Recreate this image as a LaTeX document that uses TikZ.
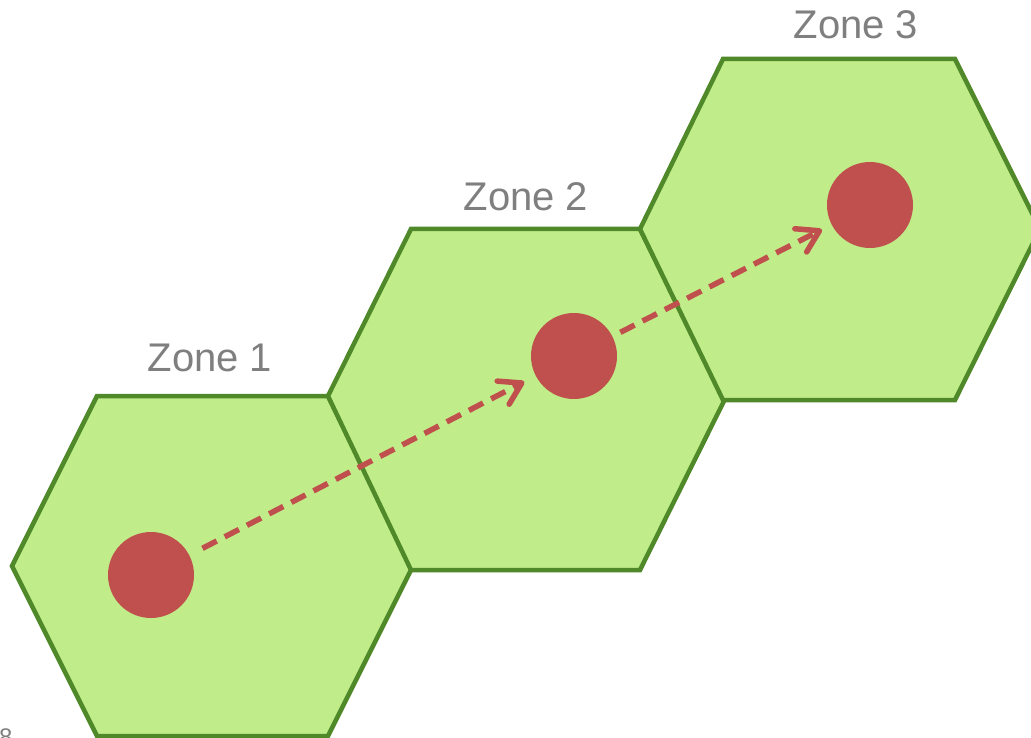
\documentclass[tikz,border=0pt]{standalone}
\usepackage{fontspec}
\setmainfont{Liberation Sans}
\usetikzlibrary{arrows.meta}
\definecolor{hexfill}{RGB}{192,236,137}
\definecolor{hexedge}{RGB}{79,137,41}
\definecolor{dotred}{RGB}{192,80,77}
\definecolor{labelgray}{RGB}{127,127,127}
\tikzset{
  hexzone/.style={fill=hexfill, draw=hexedge, line width=4.5pt, line join=miter},
  dot/.style={circle, fill=dotred, minimum size=86pt, inner sep=0pt, outer sep=0pt},
  move/.style={draw=dotred, line width=5.5pt, dash pattern=on 16pt off 9pt,
    -{Straight Barb[length=21pt,width=26pt,line cap=round,round]}},
  zonelabel/.style={text=labelgray, font=\fontsize{40}{48}\selectfont, anchor=base, inner sep=0pt}
}
\begin{document}
\begin{tikzpicture}[x=1pt,y=-1pt]
\useasboundingbox (0,0) rectangle (1031,738);
\clip (0,0) rectangle (1031,738);
% hexagons
\draw[hexzone] (12,566) -- (97,396) -- (328,396) -- (413,566) -- (328,736) -- (97,736) -- cycle;
\draw[hexzone] (328,396) -- (411,229) -- (640,229) -- (725,399) -- (640,570) -- (411,570) -- cycle;
\draw[hexzone] (640,229) -- (723,59) -- (955,59) -- (1040,229) -- (955,400) -- (723,400) -- cycle;
% zone labels
\node[zonelabel] (z1) at (210,371) {Zone 1};
\node[zonelabel] (z2) at (526,211) {Zone 2};
\node[zonelabel] (z3) at (856,39) {Zone 3};
% dots
\node[dot] (c1) at (151,575) {};
\node[dot] (c2) at (574,356) {};
\node[dot] (c3) at (870,205) {};
% moves
\draw[move, shorten <=15pt, shorten >=13pt] (c1) -- (c2);
\draw[move, shorten <=9pt, shorten >=11pt] (c2) -- (c3);
% slide number
\node[text=labelgray, font=\fontsize{24}{28}\selectfont, anchor=north west, inner sep=0pt] (pg) at (-1,729) {8};
\end{tikzpicture}
\end{document}
